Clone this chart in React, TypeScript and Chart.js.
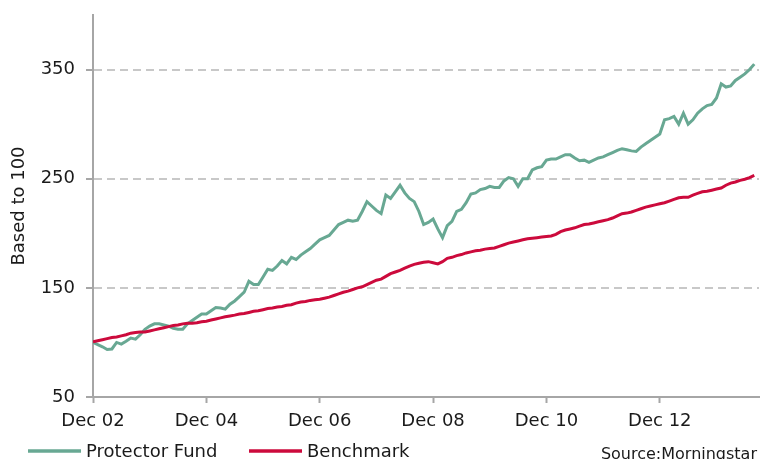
import React, { useEffect, useRef } from "react";
import { Chart, registerables } from "chart.js";

Chart.register(...registerables);

// Month index 0 = Dec 02, 140 = Aug 14
const tickLabels = ["Dec 02", "Dec 04", "Dec 06", "Dec 08", "Dec 10", "Dec 12"];
const yTickValues = [50, 150, 250, 350];

const fundValues = [
  100, 98, 96, 93.5, 94, 100, 98.5, 101, 104, 103, 107, 112, 115, 117, 117, 116,
  115, 113, 112, 112, 117, 120, 123, 126, 126, 129, 132, 131.5, 130.5, 135, 138,
  142, 146, 156, 153, 153, 160, 167, 166, 170, 175, 172, 178, 176, 180, 183, 186,
  190, 194, 196, 198, 203, 208, 210, 212, 211, 212, 220, 229, 225, 221, 218, 235,
  232, 238, 244, 237, 232, 229, 220, 208, 210, 213, 204, 196, 207, 211, 220, 222,
  228, 236, 237, 240, 241, 243, 242, 242, 248, 251, 250, 243, 250, 250, 258, 260,
  261, 267, 268, 268, 270, 272, 272, 269, 266.5, 267, 265, 267, 269, 270, 272,
  274, 276, 277.5, 276.5, 275.5, 275, 279, 282, 285, 288, 291, 304, 305, 307, 300,
  310, 300, 304, 310, 314, 317, 318, 324, 337, 334, 335, 340, 343, 346, 350, 355,
];

const benchmarkValues = [
  100.5, 101.5, 102.5, 103.5, 104.5, 105, 106, 107, 108.5, 109, 109.5, 109.5,
  110.5, 111.5, 112.5, 113.5, 114.5, 115.5, 116, 117, 117.5, 117.5, 118, 119,
  119.5, 120.5, 121.5, 122.5, 123.5, 124.3, 125, 126, 126.5, 127.5, 128.5, 129,
  130, 131, 131.5, 132.5, 133, 134, 134.5, 136, 137, 137.5, 138.5, 139, 139.5,
  140.5, 141.5, 143, 144.5, 146, 147, 148.5, 150, 151, 153, 155, 157, 158, 160.5,
  163, 164.5, 166, 168, 170, 171.5, 172.5, 173.5, 174, 173, 172, 174, 177, 178,
  179.5, 180.5, 182, 183, 184, 184.5, 185.5, 186, 186.5, 188, 189.5, 191, 192,
  193, 194, 195, 195.5, 196, 196.5, 197, 197.5, 199, 201.5, 203, 204, 205, 206.5,
  208, 208.5, 209.5, 210.5, 211.5, 212.5, 214, 216, 218, 218.5, 219.5, 221, 222.5,
  224, 225, 226, 227, 228, 229.5, 231, 232.5, 233, 233, 235, 236.5, 238, 238.5,
  239.5, 240.5, 241.5, 244, 246, 247, 248.5, 249.5, 251, 253,
];

const seriesNames = ["Protector Fund", "Benchmark"];
const sourceText = "Source:Morningstar";
const yTitle = "Based to 100";

const GREEN = "#68a893";
const RED = "#cc0a3c";
const FONT = "'DejaVu Sans', Verdana, sans-serif";

export default function App() {
  const ref = useRef<HTMLCanvasElement | null>(null);

  useEffect(() => {
    if (!ref.current) return;
    const toXY = (arr: number[]) => arr.map((v, i) => ({ x: i, y: v }));

    const overlay = {
      id: "overlay",
      afterDraw(chart: any) {
        const ctx = chart.ctx;
        ctx.save();
        const items = [
          { name: seriesNames[0], color: GREEN, x: 28 },
          { name: seriesNames[1], color: RED, x: 249 },
        ];
        ctx.font = `18px ${FONT}`;
        ctx.textBaseline = "alphabetic";
        ctx.textAlign = "left";
        items.forEach((it) => {
          ctx.strokeStyle = it.color;
          ctx.lineWidth = 3.5;
          ctx.beginPath();
          ctx.moveTo(it.x, 451);
          ctx.lineTo(it.x + 53, 451);
          ctx.stroke();
          ctx.fillStyle = "#1a1a1a";
          ctx.fillText(it.name, it.x + 58, 457);
        });
        ctx.font = `16px ${FONT}`;
        ctx.textAlign = "right";
        ctx.fillText(sourceText, 757, 459);
        ctx.restore();
      },
    };

    const chart = new Chart(ref.current, {
      type: "line",
      data: {
        datasets: [
          {
            label: seriesNames[0],
            data: toXY(fundValues),
            borderColor: GREEN,
            backgroundColor: GREEN,
            borderWidth: 3,
            pointRadius: 0,
            tension: 0,
            order: 2,
          },
          {
            label: seriesNames[1],
            data: toXY(benchmarkValues),
            borderColor: RED,
            backgroundColor: RED,
            borderWidth: 3,
            pointRadius: 0,
            tension: 0,
            order: 1,
          },
        ],
      },
      options: {
        animation: false,
        responsive: false,
        devicePixelRatio: 1,
        layout: { padding: { left: 5, right: 1, top: 15, bottom: 0 } },
        plugins: {
          legend: { display: false },
          tooltip: { enabled: false },
        },
        scales: {
          x: {
            type: "linear",
            min: 0,
            max: 141,
            afterBuildTicks: (scale: any) => {
              scale.ticks = tickLabels.map((_, k) => ({ value: k * 24 }));
            },
            afterFit: (scale: any) => {
              scale.height = 62;
              scale.paddingLeft = 0;
              scale.paddingRight = 0;
            },
            ticks: {
              autoSkip: false,
              maxRotation: 0,
              padding: 8,
              color: "#1a1a1a",
              font: { family: FONT, size: 18 },
              callback: (v: any) => tickLabels[Math.round(Number(v) / 24)] ?? "",
            },
            grid: {
              drawOnChartArea: false,
              drawTicks: true,
              tickLength: 6,
              tickColor: "#a6a6a6",
              tickWidth: 2,
            },
            border: { color: "#a6a6a6", width: 2 },
          },
          y: {
            min: 50,
            max: 400,
            afterBuildTicks: (scale: any) => {
              scale.ticks = yTickValues.map((v) => ({ value: v }));
            },
            afterFit: (scale: any) => {
              scale.width = 88;
              scale.paddingTop = 0;
              scale.paddingBottom = 0;
            },
            ticks: {
              padding: 11,
              color: "#1a1a1a",
              font: { family: FONT, size: 18 },
            },
            grid: {
              color: (c: any) => (c.tick && c.tick.value === 50 ? "rgba(0,0,0,0)" : "#c8c8c8"),
              lineWidth: 2,
              tickLength: 7,
              tickColor: "#a6a6a6",
              tickBorderDash: [],
              tickWidth: 2,
            } as any,
            border: { color: "#a6a6a6", width: 2, dash: [8, 5] },
            title: {
              display: true,
              text: yTitle,
              color: "#1a1a1a",
              font: { family: FONT, size: 18 },
              padding: { top: 4, bottom: 4 },
            },
          },
        },
      },
      plugins: [overlay],
    } as any);

    return () => chart.destroy();
  }, []);

  return (
    <div style={{ position: "absolute", left: 0, top: 0, width: 760, height: 459, background: "#fff" }}>
      <canvas ref={ref} width={760} height={459} style={{ display: "block" }} />
    </div>
  );
}
